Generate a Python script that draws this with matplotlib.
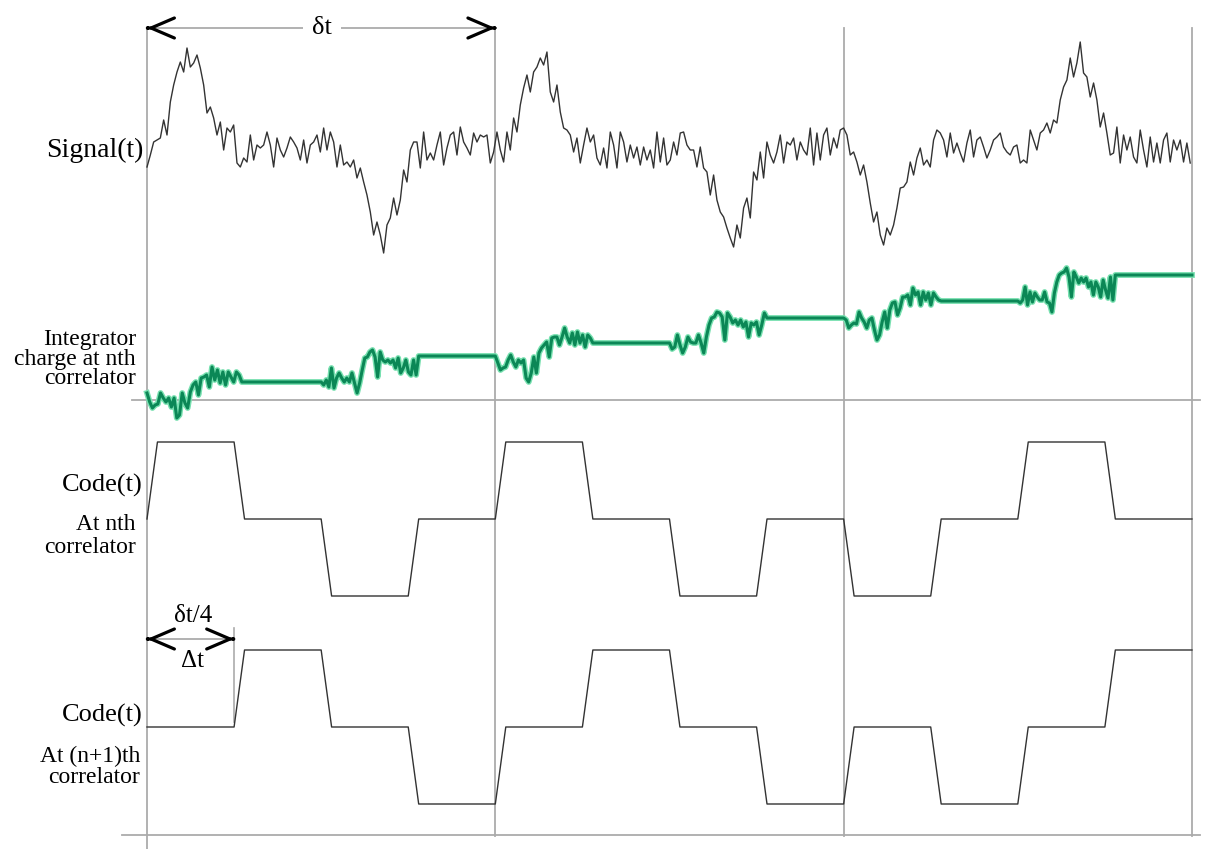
import numpy as np
import matplotlib
matplotlib.use("Agg")
import matplotlib.pyplot as plt
import matplotlib.patheffects as pe

# ---------------- data ----------------
# spreading-code levels per chip (+1 / 0 / -1), three code periods of 4 chips
code_nth = [1, 0, -1, 0, 1, 0, -1, 0, -1, 0, 1, 0]
code_next = [0, 1, 0, -1, 0, 1, 0, -1, 0, -1, 0, 1]
period_marks = [0, 4, 8, 12]          # chip index of each code-period boundary

# received noisy signal (relative amplitude, % of peak), evenly sampled over 12 chips
signal_pct = [
    -22, -10, 3, 5, 7, 25, 10, 43, 60, 73, 83, 73, 97, 78, 82, 90, 77, 60, 32, 38,
    27, 10, 23, -5, 17, 13, 20, -18, -22, -13, -17, 10, -15, 0, -3, 0, 13, 0, -22, 7,
    -5, -12, -3, 8, 3, -3, -15, 5, -18, 0, 3, 10, -7, 17, -5, 13, 3, -22, 0, -20,
    -17, -22, -15, -33, -23, -37, -50, -67, -90, -77, -90, -108, -80, -73, -53, -70, -55, -25, -37, -5,
    3, 3, -23, 13, -15, -8, -15, 0, 13, -20, -3, 10, 13, -10, 18, 3, -3, -10, 12, 3,
    10, 8, 10, -18, -7, 13, -5, -17, 13, -5, 27, 13, 40, 57, 70, 53, 73, 78, 87, 80,
    93, 53, 43, 60, 33, 17, 15, 10, -7, 7, -18, 0, 17, 3, 10, -13, -20, -3, -23, 13,
    0, -23, 13, 3, -17, 0, -13, -2, -20, -2, -15, -5, -23, 13, -17, 7, -20, -15, 3, -10,
    12, 13, 0, -5, -5, -22, -2, -23, -27, -50, -30, -55, -67, -72, -83, -93, -102, -80, -93, -63,
    -53, -73, -27, -35, -7, -33, 3, -10, -18, -7, 10, -18, 3, 0, 7, -15, 3, -5, -10, 17,
    -20, 12, -15, 10, 17, -10, 7, -3, 15, 17, 10, -10, -7, -17, -30, -20, -37, -58, -77, -67,
    -90, -100, -83, -90, -80, -63, -43, -42, -37, -17, -30, -13, -3, -20, -15, -22, 5, 15, 12, 5,
    -12, 12, -8, 2, -8, -17, 2, 15, -12, 5, 8, -2, -13, -5, 5, 8, 12, -2, -7, -10,
    -2, 0, -18, -15, -18, 15, 5, -5, 12, 15, 22, 12, 25, 22, 45, 58, 65, 87, 68, 82,
    103, 72, 68, 48, 62, 45, 18, 32, 12, -10, -8, 18, -18, 10, -5, 8, -12, -18, 15, -5,
    -22, 8, -17, 2, -18, 5, 12, -17, 5, -5, 5, -17, 2, -18,
]

# integrator charge while the code is non-zero (chips 0, 2, 4, 6, 8, 10);
# the charge is held constant during zero-level chips
charge_c0 = [7, -2, -8, -5, -4, 7, 2, -2, 2, -7, 2, -18, -15, 7, -3, -8, 8, 15, 18, 5,
             22, 23, 25, 13, 33, 20, 30, 17, 28, 15, 28, 23, 18, 28, 25, 18, 18]
charge_c2 = [18, 15, 20, 13, 32, 12, 22, 27, 22, 18, 22, 18, 27, 17, 7, 17, 30, 42, 43, 48,
             50, 43, 23, 48, 40, 38, 40, 37, 40, 32, 42, 27, 32, 40, 28, 25, 40, 25, 44]
charge_c4 = [44, 37, 30, 32, 33, 40, 45, 38, 33, 40, 37, 40, 22, 18, 27, 43, 27, 47, 52, 55,
             58, 43, 62, 63, 63, 55, 63, 72, 63, 57, 67, 55, 68, 57, 65, 53, 65, 62, 57]
charge_c6 = [57, 51, 53, 65, 55, 47, 53, 63, 58, 57, 57, 65, 57, 47, 63, 75, 82, 83, 88, 87,
             83, 60, 87, 83, 77, 80, 75, 80, 73, 78, 63, 77, 75, 78, 65, 75, 87, 82]
charge_c8 = [82, 80, 72, 75, 77, 76, 88, 82, 78, 72, 80, 82, 70, 60, 65, 78, 88, 72, 90, 97,
             98, 85, 92, 103, 103, 105, 95, 112, 105, 108, 95, 108, 100, 107, 95, 107, 103, 100, 99]
charge_c10 = [99, 97, 100, 113, 95, 108, 98, 107, 103, 100, 100, 108, 98, 97, 88, 107, 118, 125,
              127, 128, 132, 123, 103, 128, 123, 117, 122, 118, 122, 113, 118, 105, 118, 113,
              103, 120, 110, 102, 123, 100, 125]
charge_chips = [0, 2, 4, 6, 8, 10]

# ---------------- layout ----------------
W, H = 1206, 849
X0, CHIP = 147.0, 87.08          # left edge of first period and chip width (px)
RAMP = 0.12                      # rise/fall time of a code transition (chips)
ACTIVE = 1.12                    # integration window for a non-zero chip (chips)

SIG_Y, INT_Y, C1_Y, C2_Y = 145, 400, 519, 727
CODE_AMP = 77

SERIF = "Liberation Serif"
GRID = "#ababab"
TRACE = "#333333"

fig = plt.figure(figsize=(W / 100, H / 100), dpi=100)
ax = fig.add_axes([0, 0, 1, 1])
ax.set_xlim(-X0 / CHIP, (W - X0) / CHIP)
ax.set_ylim(H, 0)
ax.axis("off")


def tx(px):
    """horizontal layout position (px) -> chip time"""
    return (px - X0) / CHIP


# period boundaries and reference lines
for i, p in enumerate(period_marks):
    ax.plot([p, p], [28, H if i == 0 else 836], color=GRID, lw=1.3, zorder=1)
ax.plot([tx(132), tx(1200)], [INT_Y, INT_Y], color=GRID, lw=1.3, zorder=1)
ax.plot([tx(122), tx(1200)], [835, 835], color=GRID, lw=1.3, zorder=1)

# received signal
sig = np.array(signal_pct, dtype=float)
t_sig = np.linspace(period_marks[0], period_marks[-1] - 0.02, len(sig))
ax.plot(t_sig, SIG_Y - sig, color=TRACE, lw=1.0, zorder=3)

# integrator charge
t_int, q_int = [], []
for k, seg in zip(charge_chips, [charge_c0, charge_c2, charge_c4, charge_c6, charge_c8, charge_c10]):
    t_int.extend(np.linspace(k, k + ACTIVE, len(seg)))
    q_int.extend(seg)
t_int.append(period_marks[-1])
q_int.append(q_int[-1])
ax.plot(t_int, INT_Y - np.array(q_int, dtype=float), color="#0b8756", lw=2.2,
        solid_joinstyle="round", zorder=4,
        path_effects=[pe.Stroke(linewidth=4.2, foreground="#78e0b0"), pe.Normal()])


# code waveforms with finite-slope transitions
def code_wave(levels, start=0):
    t, v = [0.0], [start]
    prev = start
    for k, lv in enumerate(levels):
        if lv != prev:
            t.append(k + RAMP)
            v.append(lv)
        t.append(k + 1.0)
        v.append(lv)
        prev = lv
    return np.array(t), np.array(v, dtype=float)


for levels, yc in [(code_nth, C1_Y), (code_next, C2_Y)]:
    t, v = code_wave(levels)
    ax.plot(t, yc - CODE_AMP * v, color=TRACE, lw=1.0, zorder=3)


# dimension arrows: thin grey shaft with bold chevron heads
def chevron(t, y, direction):
    ax.annotate("", xy=(t, y), xytext=(t - direction * 0.01, y),
                arrowprops=dict(arrowstyle="->,head_length=1.4,head_width=0.6",
                                color="black", lw=2.3, mutation_scale=12,
                                shrinkA=0, shrinkB=0), zorder=6)


def dim_arrow(t0, t1, y):
    ax.plot([t0, t1], [y, y], color=GRID, lw=1.3, zorder=2)
    chevron(t0, y, -1)
    chevron(t1, y, +1)


dim_arrow(period_marks[0], period_marks[1], 28)
ax.text(tx(322), 28, "δt", family=SERIF, fontsize=19, ha="center", va="center",
        zorder=7, bbox=dict(boxstyle="square,pad=0.35", fc="white", ec="none"))

dim_arrow(0, 1, 639)
ax.plot([1, 1], [628, 722], color=GRID, lw=1.2, zorder=2)
ax.text(tx(193), 616, "δt/4", family=SERIF, fontsize=18, ha="center", va="center")
ax.text(tx(192), 661, "Δt", family=SERIF, fontsize=18, ha="center", va="center")

# track labels
ax.text(tx(143), 150, "Signal(t)", family=SERIF, fontsize=20, ha="right", va="center")
ax.text(tx(136), 359, "Integrator\ncharge at nth\ncorrelator", family=SERIF, fontsize=17,
        ha="right", va="center", multialignment="right", linespacing=0.92)
ax.text(tx(143), 485, "Code(t)", family=SERIF, fontsize=19, ha="right", va="center")
ax.text(tx(136), 536, "At nth\ncorrelator", family=SERIF, fontsize=17,
        ha="right", va="center", multialignment="right", linespacing=1.12)
ax.text(tx(140), 767, "At (n+1)th\ncorrelator", family=SERIF, fontsize=17,
        ha="right", va="center", multialignment="right", linespacing=1.02)
ax.text(tx(143), 715, "Code(t)", family=SERIF, fontsize=19, ha="right", va="center")

fig.savefig("out.png", dpi=100, facecolor="white")
